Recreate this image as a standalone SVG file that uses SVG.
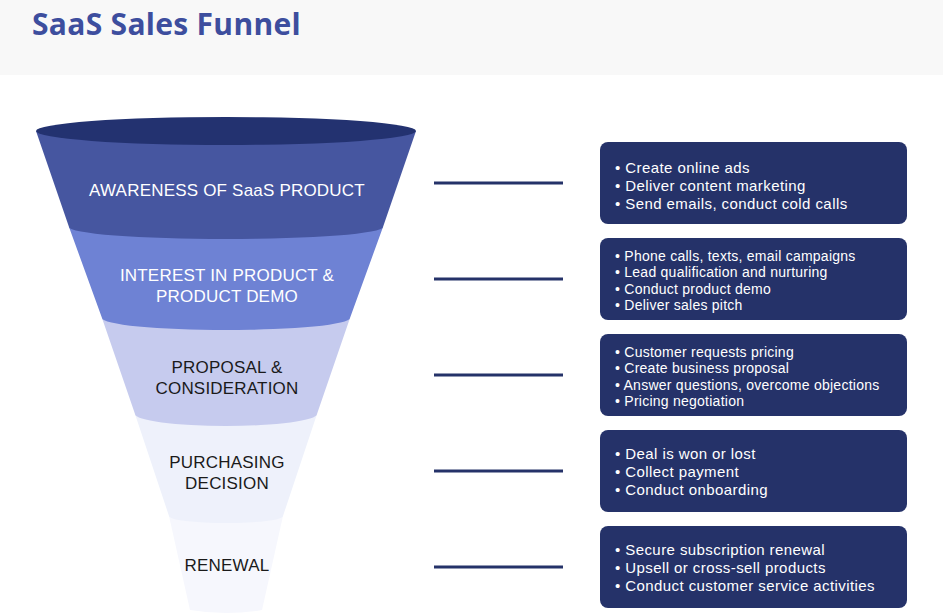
<svg xmlns="http://www.w3.org/2000/svg" width="943" height="615" viewBox="0 0 943 615">
<style>
.title{font-family:"Open Sans","Liberation Sans",sans-serif;font-weight:700;font-size:30px;fill:#3d4e9e;letter-spacing:0.3px}
.lbl{font-family:"Liberation Sans",Arial,sans-serif;font-size:17px;text-anchor:middle;letter-spacing:0.2px}
.w{fill:#ffffff}
.k{fill:#1a1a1a}
.box{fill:#253269}
.bt{font-family:"Liberation Sans",Arial,sans-serif;font-size:15px;fill:#ffffff;letter-spacing:0.42px}
.bt2{font-family:"Liberation Sans",Arial,sans-serif;font-size:14px;fill:#ffffff;letter-spacing:0.25px}
.conn{stroke:#253269;stroke-width:3;fill:none}
</style>
<rect x="0" y="0" width="943" height="615" fill="#ffffff"/>
<rect x="0" y="0" width="943" height="75" fill="#f8f8f8"/>
<text class="title" x="32" y="35">SaaS Sales Funnel</text>

<g id="funnel">
  <g id="renewal">
    <path d="M169,516 L190,610 Q226,616 262,610 L283,516 Z" fill="#f6f7fd"/>
    <text class="lbl k" x="227" y="571">RENEWAL</text>
  </g>
  <g id="purchasing">
    <path d="M135,414 L169,516 A57,7 0 0 0 283,516 L317,414 Z" fill="#eef1fb"/>
    <text class="lbl k" x="227" y="468">PURCHASING</text>
    <text class="lbl k" x="227" y="489">DECISION</text>
  </g>
  <g id="proposal">
    <path d="M102,318 L135,414 A91,12 0 0 0 317,414 L350,318 Z" fill="#c6cbee"/>
    <text class="lbl k" x="227" y="373">PROPOSAL &amp;</text>
    <text class="lbl k" x="227" y="394">CONSIDERATION</text>
  </g>
  <g id="interest">
    <path d="M69,227 L102,318 A124,12 0 0 0 350,318 L383,227 Z" fill="#6e82d4"/>
    <text class="lbl w" x="227" y="281">INTEREST IN PRODUCT &amp;</text>
    <text class="lbl w" x="227" y="302">PRODUCT DEMO</text>
  </g>
  <g id="awareness">
    <path d="M36,131 L69,227 A157,12 0 0 0 383,227 L416,131 Z" fill="#4656a0"/>
    <ellipse cx="226" cy="131" rx="190" ry="14" fill="#233270"/>
    <text class="lbl w" x="227" y="196">AWARENESS OF SaaS PRODUCT</text>
  </g>
</g>

<g id="connectors">
  <line class="conn" x1="434" y1="183" x2="563" y2="183"/>
  <line class="conn" x1="434" y1="279" x2="563" y2="279"/>
  <line class="conn" x1="434" y1="375" x2="563" y2="375"/>
  <line class="conn" x1="434" y1="471" x2="563" y2="471"/>
  <line class="conn" x1="434" y1="567" x2="563" y2="567"/>
</g>

<g id="box1">
  <rect class="box" x="600" y="142" width="307" height="82" rx="8"/>
  <text class="bt" x="615" y="173">• Create online ads</text>
  <text class="bt" x="615" y="191">• Deliver content marketing</text>
  <text class="bt" x="615" y="209">• Send emails, conduct cold calls</text>
</g>
<g id="box2">
  <rect class="box" x="600" y="238" width="307" height="82" rx="8"/>
  <text class="bt2" x="615" y="261">• Phone calls, texts, email campaigns</text>
  <text class="bt2" x="615" y="277">• Lead qualification and nurturing</text>
  <text class="bt2" x="615" y="294">• Conduct product demo</text>
  <text class="bt2" x="615" y="310">• Deliver sales pitch</text>
</g>
<g id="box3">
  <rect class="box" x="600" y="334" width="307" height="82" rx="8"/>
  <text class="bt2" x="615" y="357">• Customer requests pricing</text>
  <text class="bt2" x="615" y="373">• Create business proposal</text>
  <text class="bt2" x="615" y="390">• Answer questions, overcome objections</text>
  <text class="bt2" x="615" y="406">• Pricing negotiation</text>
</g>
<g id="box4">
  <rect class="box" x="600" y="430" width="307" height="82" rx="8"/>
  <text class="bt" x="615" y="459">• Deal is won or lost</text>
  <text class="bt" x="615" y="477">• Collect payment</text>
  <text class="bt" x="615" y="495">• Conduct onboarding</text>
</g>
<g id="box5">
  <rect class="box" x="600" y="526" width="307" height="82" rx="8"/>
  <text class="bt" x="615" y="555">• Secure subscription renewal</text>
  <text class="bt" x="615" y="573">• Upsell or cross-sell products</text>
  <text class="bt" x="615" y="591">• Conduct customer service activities</text>
</g>
</svg>
